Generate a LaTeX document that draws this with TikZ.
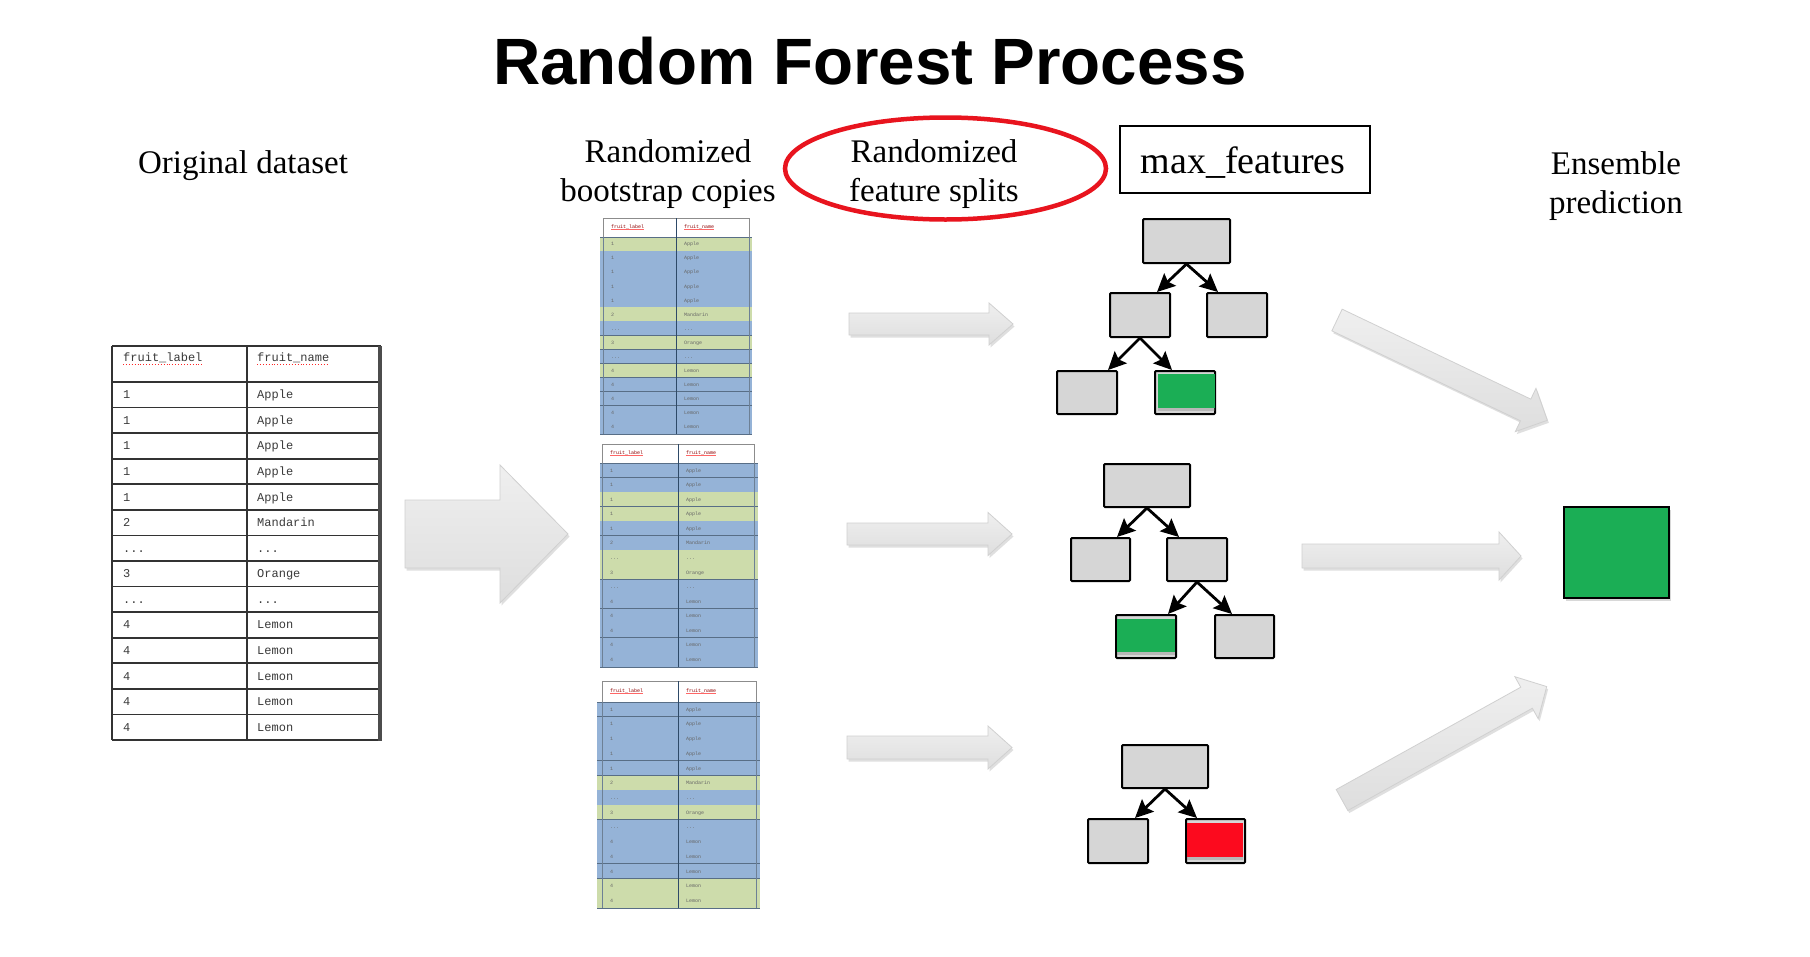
\documentclass[tikz,border=0pt]{standalone}
\usepackage{fontspec}
\setmainfont{Liberation Serif}
\newfontfamily\arialfont{Liberation Sans}
\newfontfamily\monofont{Liberation Mono}
\usetikzlibrary{arrows.meta,shadows,calc,shapes.geometric}
\definecolor{treegray}{HTML}{D6D6D6}
\definecolor{leafgreen}{HTML}{1BAE55}
\definecolor{leafred}{HTML}{FC0A1E}
\definecolor{ovalred}{HTML}{E8141E}
\definecolor{rowb}{HTML}{95B3D7}
\definecolor{rowg}{HTML}{CDDCAB}
\definecolor{rowline}{HTML}{2E4A68}
\definecolor{arrowtop}{HTML}{EFEFEF}
\definecolor{arrowbot}{HTML}{DEDEDE}
\definecolor{arrowedge}{HTML}{D0D0D0}
\definecolor{celltext}{HTML}{3A3A3A}
\newcommand{\tdots}{...}
\def\fruitrows{1/Apple,1/Apple,1/Apple,1/Apple,1/Apple,2/Mandarin,\tdots/\tdots,3/Orange,\tdots/\tdots,4/Lemon,4/Lemon,4/Lemon,4/Lemon,4/Lemon}
\tikzset{
  lbl/.style={font=\fontsize{33}{39}\selectfont, align=center, inner sep=0pt, anchor=base},
  treebox/.style={draw=black, line width=2pt, fill=treegray, rounded corners=1pt, inner sep=0pt},
  treearrow/.style={line width=2.8pt, -{Stealth[length=18pt,width=17pt,inset=3pt]}},
  garrow/.style={top color=arrowtop, bottom color=arrowbot, draw=arrowedge, line width=0.8pt,
     drop shadow={opacity=0.25, shadow xshift=1.5pt, shadow yshift=-2.5pt}},
  bigcell/.style={font=\monofont\fontsize{12}{14}\selectfont, text=celltext, inner sep=0pt, anchor=base west},
  tinycell/.style={font=\monofont\fontsize{5}{6}\selectfont, text=black!60, inner sep=0pt, anchor=base west},
  squig/.style={draw=red!85, dotted, line width=0.9pt},
}
% tail x, tail y, angle, length, shaft half width, head half width, head length
\newcommand{\grayArrow}[7]{%
  \begin{scope}[shift={(#1,#2)}, rotate=#3]
    \path[garrow] (0,-#5) -- ({#4-#7},-#5) -- ({#4-#7},-#6) -- (#4,0) -- ({#4-#7},#6) -- ({#4-#7},#5) -- (0,#5) -- cycle;
  \end{scope}}
% name, x0, x1, xdiv, ytop, yhead, ybot, band x0, band x1 ; colours in \rowcols
\newcommand{\bootTable}[9]{%
  \pgfmathsetmacro{\rh}{(#7-#6)/14}
  \fill[white] (#2,#5) rectangle (#3,#6);
  \draw[black!45, line width=0.8pt] (#2,#5) rectangle (#3,#6);
  \foreach \c [count=\i] in \rowcols {
    \pgfmathsetmacro{\ya}{#6+(\i-1)*\rh}
    \pgfmathsetmacro{\yb}{#6+\i*\rh}
    \fill[row\c] (#8,\ya) rectangle (#9,\yb);
    \draw[rowline!80, line width=0.8pt] (#8,\yb) -- (#9,\yb);
  }
  \draw[rowline!80, line width=0.8pt] (#8,#6) -- (#9,#6);
  \draw[rowline, line width=0.9pt] (#4,#5) -- (#4,#7);
  \draw[rowline!70, line width=0.8pt] (#2,#6) -- (#2,#7) (#3,#6) -- (#3,#7);
  \node[tinycell, text=red!55!black] (#1-h1) at ({#2+8},{(#5+#6)/2+1}) {fruit\_label};
  \node[tinycell, text=red!55!black] (#1-h2) at ({#4+8},{(#5+#6)/2+1}) {fruit\_name};
  \draw[red!60, line width=0.5pt] ([yshift=-1.2pt]#1-h1.base west) -- ([yshift=-1.2pt]#1-h1.base east);
  \draw[red!60, line width=0.5pt] ([yshift=-1.2pt]#1-h2.base west) -- ([yshift=-1.2pt]#1-h2.base east);
  \foreach \a/\b [count=\i] in \fruitrows {
    \pgfmathsetmacro{\yc}{#6+(\i-0.5)*\rh+1.8}
    \node[tinycell] (#1-a-\i) at ({#2+8},\yc) {\a};
    \node[tinycell] (#1-b-\i) at ({#4+8},\yc) {\b};
  }
}
\begin{document}
\begin{tikzpicture}[x=1pt, y=-1pt]
\useasboundingbox (0,0) rectangle (1810,956);
\fill[white] (0,0) rectangle (1810,956);

% Title and labels
\node[inner sep=0pt, anchor=base, font=\arialfont\bfseries\fontsize{65.5}{72}\selectfont] (title) at (870,84) {Random Forest Process};
\node[lbl, font=\fontsize{33}{38}\selectfont] (orig) at (243,173) {Original dataset};
\node[lbl] (boot) at (668,201) {Randomized\\bootstrap copies};
\node[lbl] (feat) at (934,201) {Randomized\\feature splits};
\node[ellipse, draw=ovalred, line width=4.5pt, minimum width=321pt, minimum height=102pt, inner sep=0pt] (oval) at (945.5,168.5) {};
\node[draw=black, line width=1.5pt, minimum width=250pt, minimum height=67pt, inner sep=0pt] (mfbox) at (1245,159.5) {};
\node[inner sep=0pt, anchor=base, font=\fontsize{38}{42}\selectfont] (mf) at (1243,173) {max\_features};
\node[lbl] (ens) at (1616,213) {Ensemble\\prediction};

% Original table
\pgfmathsetmacro{\orh}{(740-382)/14}
\fill[white] (112,346) rectangle (381,740);
\foreach \i in {0,...,14} {
  \pgfmathsetmacro{\yy}{382+\i*\orh}
  \draw[black!80, line width=1.6pt] (112,\yy) -- (381,\yy);
}
\draw[black!80, line width=1.6pt] (112,346) -- (381,346);
\draw[black!80, line width=1.6pt] (112,346) -- (112,740);
\draw[black!80, line width=1.6pt] (247,346) -- (247,740);
\draw[black!70, line width=4pt] (380,346) -- (380,741);
\node[bigcell] (oh1) at (123,361) {fruit\_label};
\node[bigcell] (oh2) at (257,361) {fruit\_name};
\draw[squig] ([yshift=-3.5pt]oh1.base west) -- ([yshift=-3.5pt]oh1.base east);
\draw[squig] ([yshift=-3.5pt]oh2.base west) -- ([yshift=-3.5pt]oh2.base east);
\foreach \a/\b [count=\i] in \fruitrows {
  \pgfmathsetmacro{\yc}{382+(\i-0.5)*\orh+4}
  \node[bigcell] (oa-\i) at (123,\yc) {\a};
  \node[bigcell] (ob-\i) at (257,\yc) {\b};
}

% Bootstrap tables
\def\rowcols{g,b,b,b,b,g,b,g,b,g,b,b,b,b}
\bootTable{t1}{603}{749}{676}{218}{237}{434}{600}{752}
\def\rowcols{b,b,g,g,b,b,g,g,b,b,b,b,b,b}
\bootTable{t2}{602}{754}{678}{444}{463}{667}{600}{758}
\def\rowcols{b,b,b,b,b,g,b,g,b,b,b,b,g,g}
\bootTable{t3}{602}{756}{678}{681}{702}{908}{597}{760}

% Gray block arrows
\grayArrow{405}{534}{0}{163}{34}{69}{68}
\grayArrow{849}{324}{0}{164}{11}{21}{24}
\grayArrow{847}{534}{0}{165}{11}{21.5}{24}
\grayArrow{847}{747.5}{0}{165}{11.5}{21.5}{24}
\grayArrow{1302}{556}{0}{219}{12}{24}{22}
\grayArrow{1337}{320}{-25.5}{233}{12}{24}{24}
\grayArrow{1342}{800}{29}{234}{12}{24}{23}

% Tree 1
\node[treebox, minimum width=87pt, minimum height=44pt] (a-root) at (1186.5,241) {};
\node[treebox, minimum width=60pt, minimum height=44pt] (a-l) at (1140,315) {};
\node[treebox, minimum width=60pt, minimum height=44pt] (a-r) at (1237,315) {};
\node[treebox, minimum width=60pt, minimum height=43pt] (a-ll) at (1087,392.5) {};
\node[treebox, minimum width=60pt, minimum height=43pt] (a-lr) at (1185,392.5) {};
\fill[leafgreen, drop shadow={opacity=0.35, shadow xshift=0pt, shadow yshift=-3pt}] ([shift={(4,4)}]a-lr.north west) rectangle ([shift={(-1,-7)}]a-lr.south east);
\draw[treearrow] (a-root.south) -- ([xshift=17pt]a-l.north);
\draw[treearrow] (a-root.south) -- ([xshift=-19pt]a-r.north);
\draw[treearrow] (a-l.south) -- ([xshift=21pt]a-ll.north);
\draw[treearrow] (a-l.south) -- ([xshift=-13pt]a-lr.north);

% Tree 2
\node[treebox, minimum width=86pt, minimum height=43pt] (b-root) at (1147,485.5) {};
\node[treebox, minimum width=59pt, minimum height=43pt] (b-l) at (1100.5,559.5) {};
\node[treebox, minimum width=60pt, minimum height=43pt] (b-r) at (1197,559.5) {};
\node[treebox, minimum width=60pt, minimum height=43pt] (b-rl) at (1146,636.5) {};
\node[treebox, minimum width=59pt, minimum height=43pt] (b-rr) at (1244.5,636.5) {};
\fill[leafgreen, drop shadow={opacity=0.35, shadow xshift=0pt, shadow yshift=-3pt}] ([shift={(2,5)}]b-rl.north west) rectangle ([shift={(-2,-7)}]b-rl.south east);
\draw[treearrow] (b-root.south) -- ([xshift=16.5pt]b-l.north);
\draw[treearrow] (b-root.south) -- ([xshift=-18pt]b-r.north);
\draw[treearrow] (b-r.south) -- ([xshift=22pt]b-rl.north);
\draw[treearrow] (b-r.south) -- ([xshift=-12.5pt]b-rr.north);

% Tree 3
\node[treebox, minimum width=86pt, minimum height=43pt] (c-root) at (1165,766.5) {};
\node[treebox, minimum width=60pt, minimum height=44pt] (c-l) at (1118,841) {};
\node[treebox, minimum width=59pt, minimum height=44pt] (c-r) at (1215.5,841) {};
\fill[leafred, drop shadow={opacity=0.35, shadow xshift=0pt, shadow yshift=-3pt}] ([shift={(2,5)}]c-r.north west) rectangle ([shift={(-3,-7)}]c-r.south east);
\draw[treearrow] (c-root.south) -- ([xshift=17pt]c-l.north);
\draw[treearrow] (c-root.south) -- ([xshift=-18.5pt]c-r.north);

% Ensemble prediction
\node[draw=black, line width=2pt, fill=leafgreen, minimum width=105pt, minimum height=91pt, inner sep=0pt,
  drop shadow={opacity=0.3, shadow xshift=1.5pt, shadow yshift=-2.5pt}] (ensbox) at (1616.5,552.5) {};
\end{tikzpicture}
\end{document}
